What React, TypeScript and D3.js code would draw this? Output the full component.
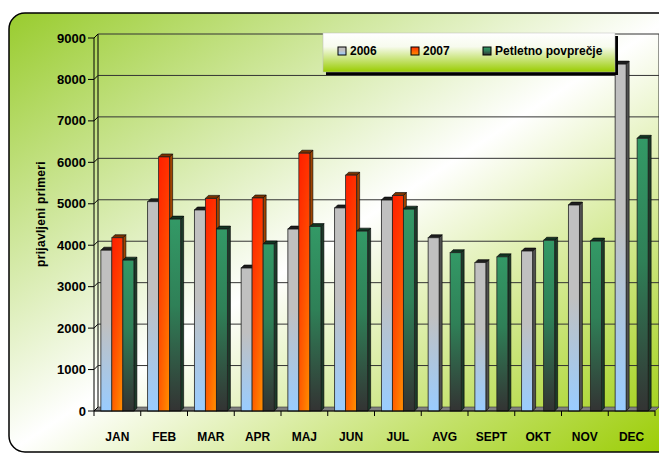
import React from 'react';
import * as d3 from 'd3';

// podatki
const months = ['JAN', 'FEB', 'MAR', 'APR', 'MAJ', 'JUN', 'JUL', 'AVG', 'SEPT', 'OKT', 'NOV', 'DEC'];
const v2006 = [3880, 5050, 4850, 3450, 4390, 4900, 5090, 4180, 3580, 3860, 4970, 8370];
const v2007: (number | null)[] = [4180, 6130, 5130, 5140, 6220, 5690, 5200, null, null, null, null, null];
const vAvg = [3640, 4630, 4390, 4030, 4450, 4340, 4870, 3820, 3720, 4120, 4100, 6580];
const yTicks = [0, 1000, 2000, 3000, 4000, 5000, 6000, 7000, 8000, 9000];
const seriesNames = ['2006', '2007', 'Petletno povprečje'];

const W = 659;
const H = 455;
const FONT = "'Comic Sans MS', 'Liberation Sans', Arial, sans-serif";

// 3D zamik stene in stolpcev
const wallDx = 4;
const wallDy = -4;
const barD = 3;

const x = d3.scaleBand<string>().domain(months).range([94, 655]).padding(0);
const xs = d3.scaleBand<string>().domain(seriesNames).range([0, 33]);
const y = d3.scaleLinear().domain([0, 9000]).range([411, 38]);

const gradIds = ['g2006', 'g2007', 'gAvg'];
const topColors = ['#1e1e1e', '#7a3200', '#123522'];
const sideColors = ['#505050', '#a04400', '#1d3a2a'];

export default function App() {
  const x0 = x.range()[0];
  const x1 = x.range()[1];
  const y0 = y(0);

  const bars: { s: number; m: string; v: number }[] = [];
  months.forEach((m, i) => {
    bars.push({ s: 0, m, v: v2006[i] });
    if (v2007[i] != null) bars.push({ s: 1, m, v: v2007[i] as number });
    bars.push({ s: 2, m, v: vAvg[i] });
  });

  const off = (x.bandwidth() - 33) / 2;

  return (
    <div style={{ position: 'absolute', left: 0, top: 0 }}>
      <svg width={W} height={H} style={{ display: 'block', fontFamily: FONT }}>
        <defs>
          <linearGradient id="bg" x1="0" y1="0" x2="1" y2="1">
            <stop offset="0" stopColor="#99cc2e" />
            <stop offset="0.5" stopColor="#ffffff" />
            <stop offset="1" stopColor="#99cc00" />
          </linearGradient>
          <linearGradient id="legBg" x1="0" y1="0" x2="0" y2="1">
            <stop offset="0" stopColor="#ffffff" />
            <stop offset="0.35" stopColor="#f7fbee" />
            <stop offset="1" stopColor="#99cc00" />
          </linearGradient>
          <linearGradient id="g2006" x1="0" y1="0" x2="0" y2="1">
            <stop offset="0" stopColor="#c0c0c0" />
            <stop offset="0.45" stopColor="#c0c0c0" />
            <stop offset="1" stopColor="#99ccff" />
          </linearGradient>
          <linearGradient id="g2007" x1="0" y1="0" x2="0" y2="1">
            <stop offset="0" stopColor="#ff3000" />
            <stop offset="1" stopColor="#ff9000" />
          </linearGradient>
          <linearGradient id="gAvg" x1="0" y1="0" x2="0" y2="1">
            <stop offset="0" stopColor="#339966" />
            <stop offset="0.45" stopColor="#2f8057" />
            <stop offset="1" stopColor="#333333" />
          </linearGradient>
          <linearGradient id="hShade" x1="0" y1="0" x2="1" y2="0">
            <stop offset="0" stopColor="#ff0000" stopOpacity="0.35" />
            <stop offset="1" stopColor="#ff0000" stopOpacity="0" />
          </linearGradient>
        </defs>

        {/* ozadje */}
        <rect x={9} y={13} width={670} height={439} rx={16} fill="url(#bg)" stroke="#000" strokeWidth={1.5} />

        {/* tla */}
        <polygon
          points={`${x0},${y0} ${x1},${y0} ${x1 + wallDx},${y0 + wallDy} ${x0 + wallDx},${y0 + wallDy}`}
          fill="#808080"
          stroke="#333"
          strokeWidth={0.6}
        />

        {/* leva stena in mreža */}
        <line x1={x0} y1={y0} x2={x0} y2={y(9000)} stroke="#000" strokeWidth={1} />
        <line x1={x0 + wallDx} y1={y0 + wallDy} x2={x0 + wallDx} y2={y(9000) + wallDy} stroke="#000" strokeWidth={1} />
        <line x1={x1 + wallDx} y1={y0 + wallDy} x2={x1 + wallDx} y2={y(9000) + wallDy} stroke="#333" strokeWidth={1} />
        {yTicks.map(t => (
          <g key={t}>
            {t > 0 && (
              <line x1={x0 + wallDx} x2={x1 + wallDx} y1={y(t) + wallDy} y2={y(t) + wallDy} stroke="#333" strokeWidth={1} />
            )}
            <line x1={x0} x2={x0 + wallDx} y1={y(t)} y2={y(t) + wallDy} stroke="#000" strokeWidth={1} />
            <line x1={x0 - 6} x2={x0} y1={y(t)} y2={y(t)} stroke="#000" strokeWidth={1} />
            <text x={x0 - 8} y={y(t)} dy="0.35em" textAnchor="end" fontSize={13} fontWeight="bold" fill="#000">
              {t}
            </text>
          </g>
        ))}

        {/* stolpci */}
        {bars.map((b, i) => {
          const bx = (x(b.m) as number) + off + (xs(seriesNames[b.s]) as number);
          const w = xs.bandwidth();
          const by = y(b.v);
          return (
            <g key={i}>
              <polygon
                points={`${bx + w},${by} ${bx + w + barD},${by - barD} ${bx + w + barD},${y0 - barD} ${bx + w},${y0}`}
                fill={sideColors[b.s]}
                stroke="#000"
                strokeWidth={0.6}
              />
              <polygon
                points={`${bx},${by} ${bx + barD},${by - barD} ${bx + w + barD},${by - barD} ${bx + w},${by}`}
                fill={topColors[b.s]}
                stroke="#000"
                strokeWidth={0.6}
              />
              <rect x={bx} y={by} width={w} height={y0 - by} fill={`url(#${gradIds[b.s]})`} stroke="#222" strokeWidth={0.8} />
              {b.s === 1 && <rect x={bx + 0.5} y={by + 0.5} width={w - 1} height={y0 - by - 1} fill="url(#hShade)" />}
            </g>
          );
        })}

        {/* x os */}
        <line x1={x0} x2={x1} y1={y0} y2={y0} stroke="#000" strokeWidth={1} />
        {months.map((m, i) => (
          <line key={'t' + m} x1={x0 + i * x.bandwidth()} x2={x0 + i * x.bandwidth()} y1={y0} y2={y0 + 5} stroke="#000" />
        ))}
        <line x1={x1} x2={x1} y1={y0} y2={y0 + 5} stroke="#000" />
        {months.map(m => (
          <text
            key={m}
            x={(x(m) as number) + x.bandwidth() / 2}
            y={437}
            dy="0.35em"
            textAnchor="middle"
            fontSize={12}
            fontWeight="bold"
            fill="#000"
          >
            {m}
          </text>
        ))}

        {/* naslov osi y */}
        <text
          transform={`translate(41, 214) rotate(-90)`}
          textAnchor="middle"
          dy="0.35em"
          fontSize={12}
          fontWeight="bold"
          fill="#000"
          letterSpacing="0.3"
        >
          prijavljeni primeri
        </text>

        {/* legenda */}
        <rect x={326} y={36} width={292} height={39} fill="#000" />
        <rect x={323} y={33} width={292} height={39} fill="url(#legBg)" stroke="#bbb" strokeWidth={0.5} />
        {seriesNames.map((s, i) => {
          const lx = [338, 411, 483][i];
          return (
            <g key={s}>
              <rect x={lx} y={47} width={8} height={8} fill={`url(#${gradIds[i]})`} stroke="#000" strokeWidth={1} />
              <text x={lx + 12} y={51} dy="0.35em" fontSize={12} fontWeight="bold" fill="#000">
                {s}
              </text>
            </g>
          );
        })}
      </svg>
    </div>
  );
}
